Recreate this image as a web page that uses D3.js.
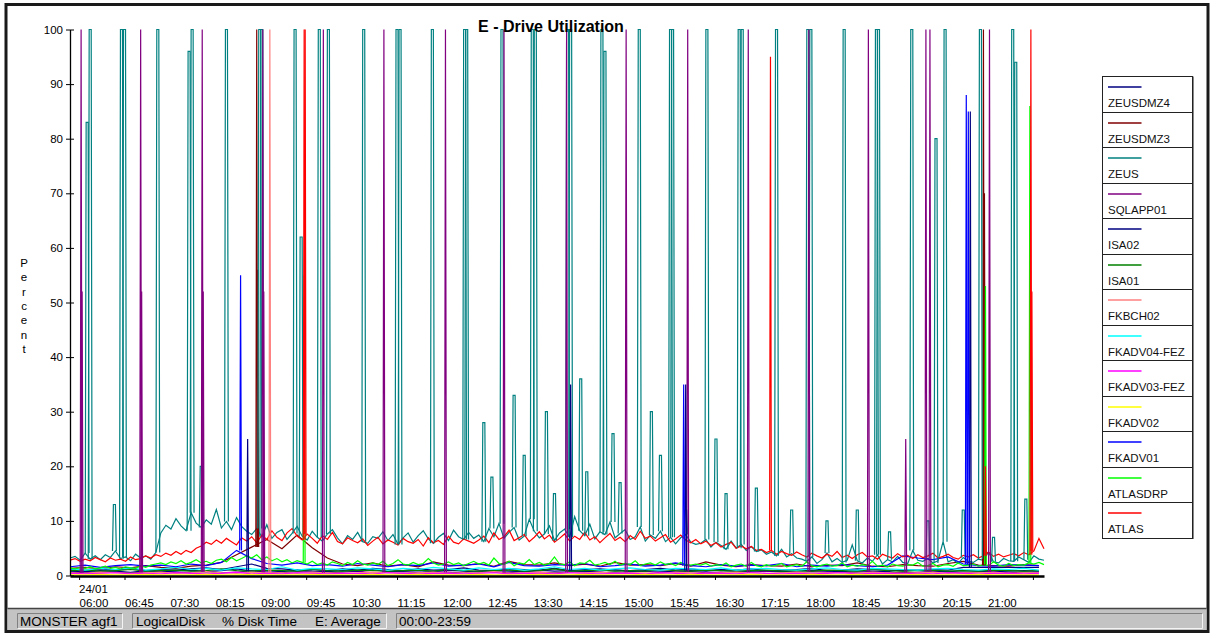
<!DOCTYPE html>
<html>
<head>
<meta charset="utf-8">
<script src="https://cdn.jsdelivr.net/npm/d3@7"></script>
<style>
  body { margin: 0; background: #fff; }
  svg { display: block; font-family: "Liberation Sans", Arial, sans-serif; }
</style>
</head>
<body>
<svg id="chart" width="1213" height="634"></svg>
<script>
// ---- chart values (minutes of the day on x, percent on y) ----
var startMinute = 351; // 05:51, left edge of the plot
var endMinute = 1316; // 21:56, right edge
var fineStep = 5, coarseStep = 15;

var tickLabels = ["06:00", "06:45", "07:30", "08:15", "09:00", "09:45", "10:30", "11:15", "12:00", "12:45", "13:30",
  "14:15", "15:00", "15:45", "16:30", "17:15", "18:00", "18:45", "19:30", "20:15", "21:00"];
var unlabelledTicks = ["21:45"];
var dateLabel = "24/01";
var yTicks = [0, 10, 20, 30, 40, 50, 60, 70, 80, 90, 100];

// sampled every 5 minutes
var zeusValues = [3.2, 3.5, 2.8, 4.1, 3.0, 3.6, 2.9, 3.8, 3.3, 4.5, 3.1, 3.4, 2.7, 3.9, 3.2, 3.6, 3.0, 4.2,
  7.8, 9.2, 8.5, 10.4, 9.1, 8.2, 11.5, 9.6, 8.8, 10.2, 9.4, 12.1, 8.7, 9.9, 8.4, 10.6, 9.0, 8.1,
  7.5, 8.6, 7.1, 9.3, 6.8, 7.9, 8.4, 6.6, 7.7, 9.0,
  7.2, 6.5, 8.1, 7.0, 6.3, 7.6, 8.4, 6.9, 5.8, 7.3, 6.6, 7.9, 6.2, 5.9, 7.1, 6.8, 8.0, 6.4, 7.5, 5.7,
  6.9, 7.8, 6.1, 7.3, 8.2, 6.7, 5.9, 7.0, 7.7, 6.4, 8.3, 7.1, 6.6, 7.9, 6.8,
  7.4, 6.2, 8.6, 7.1, 9.5, 6.8, 7.9, 8.8, 6.5, 7.2, 10.3, 8.1, 6.9, 7.6, 9.1, 6.4, 7.8, 8.5, 7.0, 10.8,
  8.2, 7.3, 9.4, 6.7, 8.0, 7.5, 9.8, 6.9, 7.7, 8.4, 6.6, 7.1, 8.9, 6.3, 7.4, 6.8, 8.1, 6.2, 7.0, 5.8,
  6.9, 7.5, 6.1, 5.7,
  5.9, 6.6, 5.2, 6.1, 5.5, 4.8, 6.3, 5.0, 5.7, 4.6, 5.3, 4.4,
  4.7, 3.9, 4.3, 3.6, 4.8, 3.4, 4.0, 3.2,
  3.0, 2.6, 3.4, 2.2, 2.9, 4.1, 2.5, 3.1, 2.4, 2.8, 5.6, 2.7, 2.3, 3.2, 2.6, 3.8, 2.1, 2.9, 2.5, 3.5,
  2.4, 2.2, 4.6, 2.8, 2.6, 3.1, 2.3, 2.7, 6.2, 2.5, 2.9, 2.2, 3.3, 2.6, 2.4, 3.0, 2.8, 4.3, 2.5, 2.3,
  3.1, 2.7, 2.6, 3.4, 2.9, 2.4, 3.6, 3.0, 2.8];

var atlasValues = [2.8, 3.1, 2.6, 3.0, 2.7, 3.3, 2.9, 2.5, 3.2, 2.8, 3.0, 2.6, 3.4, 2.9, 3.1, 3.6, 3.2, 3.8,
  3.5, 4.1, 3.7, 4.4, 3.9, 4.6, 4.2, 5.0,
  5.4, 6.1, 5.7, 6.5, 5.9, 6.8, 6.2, 5.6, 6.9, 6.3, 7.1, 6.0,
  7.4, 6.6, 8.2, 7.0, 6.4, 7.8, 8.6, 7.2, 6.5, 7.6, 6.8, 5.9, 7.3, 6.6, 7.9, 6.2, 5.8, 6.9, 6.4,
  6.0, 6.7, 5.5, 6.3, 7.0, 5.8, 6.5, 6.1, 5.6, 6.8, 6.2, 5.9, 6.6, 5.4, 6.9, 6.0, 6.4, 5.7, 7.2, 6.1,
  5.8, 6.7, 6.3, 5.9,
  6.5, 7.2, 6.0, 7.8, 6.6, 7.1, 8.3, 6.4, 6.9, 7.5, 6.2, 7.0, 8.0, 6.7, 7.4, 6.1, 6.8, 7.6, 6.3, 7.2,
  6.6, 7.9, 6.5, 7.1, 6.0, 6.9, 7.7, 6.4, 7.0, 6.2, 7.3, 6.6, 8.1, 6.8, 7.2, 6.3, 6.9, 7.5, 6.1, 6.7,
  7.4, 6.5, 6.0, 6.6,
  5.8, 6.3, 5.5, 6.0, 5.2, 5.7, 6.1, 5.0, 5.4, 4.9, 5.3, 4.6,
  4.8, 4.2, 4.6, 3.9, 4.4, 4.0, 3.7, 4.3,
  3.8, 3.4, 4.1, 3.6, 3.2, 3.9, 3.5, 4.4, 3.3, 3.7, 3.1, 3.8, 4.2, 3.4, 3.6, 3.0, 3.9, 3.5, 3.2, 4.0,
  3.4, 3.7, 3.1, 3.8, 3.3, 3.6, 4.1, 3.2, 3.5, 3.9, 3.3, 3.0, 3.7, 3.4, 3.8, 3.2, 3.6, 4.3, 3.5, 3.9,
  3.4, 3.7, 4.0, 3.6, 4.2, 3.8, 4.5, 6.8, 4.9];

var atlasdrpValues = [1.4, 1.2, 1.5, 1.3, 1.6, 1.2, 1.4, 1.7, 1.3, 1.5, 1.2, 1.6, 1.4, 1.3, 1.8, 1.5, 1.9, 2.1,
  2.3, 2.0, 2.5, 2.2, 2.7, 2.1, 2.4, 2.9, 2.3, 2.6, 2.2, 2.8, 3.0, 2.5, 3.3, 2.7, 3.1, 3.6,
  3.2, 3.8, 2.9, 3.4, 2.7, 3.1, 2.5, 2.9, 2.3, 2.7,
  2.4, 2.1, 2.6, 2.0, 2.3, 1.9, 2.5, 2.2, 1.8, 2.4, 2.0, 2.7, 2.1, 1.9, 2.3, 2.0, 2.6, 1.8, 2.2, 2.9,
  2.1, 1.9, 2.4, 2.0, 2.2, 3.1, 2.3, 1.9, 2.1, 2.5, 2.0, 2.3, 1.8, 2.2, 2.6,
  2.1, 2.4, 1.9, 3.2, 2.2, 2.0, 2.6, 1.8, 2.3, 2.1, 2.9, 2.0, 2.4, 1.9, 2.2, 3.4, 2.1, 2.0, 2.5, 1.8,
  2.3, 2.2, 2.8, 1.9, 2.1, 2.4, 2.0, 2.6, 1.9, 2.2, 2.0, 2.7, 1.8, 2.1, 2.3, 1.9, 2.5, 2.0, 2.2, 1.8,
  2.4, 2.0, 1.9, 2.1,
  1.9, 2.2, 1.7, 2.0, 1.8, 2.3, 1.6, 1.9, 2.1, 1.7, 2.4, 1.8, 1.6, 2.0, 1.7, 1.9, 2.2, 1.6, 1.8, 2.0,
  1.7, 2.5, 1.8, 1.6, 1.9, 2.1, 1.7, 1.8, 2.3, 1.6, 1.9, 1.7, 2.0, 1.8, 2.6, 1.7, 1.9, 1.6, 2.1, 1.8,
  1.7, 2.0, 1.9, 2.4, 1.7, 1.8, 2.2, 1.6, 1.9, 2.0, 1.7, 2.3, 1.8, 1.9, 2.1, 1.7, 2.0, 1.8, 2.5, 1.9,
  1.7, 2.2, 1.8, 2.0, 1.9, 2.3, 2.1, 2.4, 2.0];

// sampled every 15 minutes
var zeusdmz3Values = [1.3, 1.5, 1.2, 1.6, 1.4, 1.8, 1.5, 1.3, 1.7, 1.9, 2.4, 3.8, 5.2, 6.6, 4.9, 7.4, 5.1, 3.2, 2.1, 1.8,
  2.3, 1.7, 2.0, 1.6, 2.5, 1.9, 1.8, 2.2, 1.7, 2.6, 2.0, 1.9, 2.3, 1.8, 2.1, 1.7, 2.4, 1.9, 2.0, 1.8,
  2.2, 1.7, 2.5, 1.9, 1.6, 2.0, 1.8, 1.7, 2.1, 1.6, 1.9, 1.8, 2.3, 1.7, 1.6, 2.0, 1.8, 1.7, 2.2, 2.6,
  1.9, 1.8, 1.7, 2.0, 1.8];
var fkadv01Values = [1.6, 1.9, 1.5, 1.8, 2.0, 1.7, 1.9, 1.6, 2.1, 1.8, 2.4, 4.6, 3.1, 2.2, 1.9, 2.3, 1.8, 2.0, 1.7, 2.2,
  1.9, 1.6, 2.0, 1.8, 2.3, 1.7, 1.9, 2.1, 1.6, 2.4, 1.8, 1.7, 2.0, 1.9, 2.2, 1.6, 1.8, 2.1, 1.7, 1.9,
  2.3, 1.8, 1.6, 2.0, 1.7, 1.9, 1.8, 2.2, 1.6, 1.9, 1.7, 2.0, 1.8, 1.6, 1.9, 3.6, 3.2, 2.9, 3.4, 2.1,
  1.8, 1.7, 2.0, 1.9, 1.8];
var zeusdmz4Values = [1.1, 0.9, 1.2, 1.0, 1.3, 0.9, 1.1, 1.0, 1.2, 1.4, 1.1, 1.6, 2.1, 1.3, 1.2, 1.0, 1.1, 0.9, 1.2, 1.0,
  1.3, 1.1, 0.9, 1.2, 1.0, 1.1, 1.4, 1.0, 0.9, 1.2, 1.1, 1.0, 1.3, 0.9, 1.1, 1.2, 1.0, 0.9, 1.1, 1.3,
  1.0, 1.2, 0.9, 1.1, 1.0, 1.2, 0.9, 1.0, 1.1, 1.3, 0.9, 1.0, 1.2, 1.1, 1.0, 0.9, 1.0, 1.1, 1.0, 1.5,
  1.5, 1.5, 1.5, 1.5, 1.5];
var isa02Values = [0.8, 0.7, 0.9, 0.8, 0.6, 0.9, 0.7, 0.8, 1.0, 0.7, 0.9, 1.2, 0.8, 0.9, 0.7, 1.0, 0.8, 0.7, 0.9, 0.8,
  1.1, 0.7, 0.8, 0.9, 0.7, 1.0, 0.8, 0.6, 0.9, 0.8, 0.7, 1.0, 0.8, 0.9, 0.7, 0.8, 1.1, 0.7, 0.9, 0.8,
  0.7, 0.9, 0.8, 1.0, 0.7, 0.8, 0.9, 0.7, 0.8, 1.0, 0.8, 0.7, 0.9, 0.8, 0.7, 1.1, 0.9, 0.8, 0.7, 0.9,
  0.8, 0.7, 0.8, 0.9, 0.8];
var sqlapp01Values = [0.6, 0.5, 0.7, 0.6, 0.5, 0.6, 0.8, 0.5, 0.6, 0.7, 0.5, 0.6, 0.9, 0.6, 0.5, 0.7, 0.6, 0.5, 0.6, 0.8,
  0.5, 0.6, 0.7, 0.5, 0.6, 0.6, 0.5, 0.8, 0.6, 0.5, 0.7, 0.6, 0.5, 0.6, 0.7, 0.5, 0.6, 0.6, 0.8, 0.5,
  0.6, 0.7, 0.5, 0.6, 0.5, 0.6, 0.8, 0.6, 0.5, 0.7, 0.6, 0.5, 0.6, 0.7, 0.5, 0.6, 0.5, 0.8, 0.6, 0.5,
  0.6, 0.7, 0.5, 0.6, 0.6];
var isa01Values = [0.9, 1.0, 0.8, 0.9, 1.1, 0.8, 0.9, 1.0, 0.8, 0.9, 1.2, 0.9, 0.8, 1.0, 0.9, 0.8, 1.1, 0.9, 0.8, 1.0,
  0.9, 0.8, 0.9, 1.0, 0.8, 1.1, 0.9, 0.8, 0.9, 1.0, 0.8, 0.9, 1.2, 0.8, 0.9, 1.0, 0.8, 0.9, 0.8, 1.1,
  0.9, 0.8, 1.0, 0.9, 0.8, 0.9, 1.0, 0.8, 0.9, 0.8, 1.0, 0.9, 0.8, 1.1, 0.9, 0.8, 0.9, 1.0, 0.8, 0.9,
  0.8, 1.0, 0.9, 0.8, 0.9];
var fkbch02Values = [0.5, 0.4, 0.6, 0.5, 0.4, 0.5, 0.6, 0.4, 0.5, 0.7, 0.5, 0.4, 0.6, 0.5, 0.5, 0.4, 0.6, 0.5, 0.4, 0.5,
  0.6, 0.5, 0.4, 0.5, 0.6, 0.4, 0.5, 0.5, 0.7, 0.4, 0.5, 0.6, 0.4, 0.5, 0.5, 0.6, 0.4, 0.5, 0.5, 0.4,
  0.6, 0.5, 0.4, 0.5, 0.6, 0.5, 0.4, 0.5, 0.6, 0.4, 0.5, 0.5, 0.4, 0.6, 0.5, 0.4, 0.5, 0.6, 0.4, 0.5,
  0.5, 0.6, 0.4, 0.5, 0.5];
var fkadv04Values = [1.2, 1.0, 1.3, 1.1, 1.4, 1.0, 1.2, 1.5, 1.1, 1.3, 1.0, 1.4, 1.2, 1.1, 1.6, 1.0, 1.3, 1.2, 1.1, 1.4,
  1.2, 1.0, 1.3, 1.1, 1.5, 1.2, 1.0, 1.4, 1.1, 1.3, 1.0, 1.2, 1.6, 1.1, 1.3, 1.0, 1.2, 1.4, 1.1, 1.0,
  1.3, 1.2, 1.1, 1.4, 1.0, 1.2, 1.3, 1.1, 1.0, 1.2, 1.4, 1.1, 1.0, 1.3, 1.2, 1.1, 1.0, 1.2, 1.3, 1.1,
  1.0, 1.2, 1.1, 1.3, 1.0];
var fkadv03Values = [0.4, 0.3, 0.4, 0.5, 0.3, 0.4, 0.3, 0.5, 0.4, 0.3, 0.4, 0.6, 0.3, 0.4, 0.3, 0.5, 0.4, 0.3, 0.4, 0.4,
  0.3, 0.5, 0.4, 0.3, 0.4, 0.4, 0.3, 0.4, 0.5, 0.3, 0.4, 0.4, 0.3, 0.5, 0.4, 0.3, 0.4, 0.4, 0.3, 0.5,
  0.4, 0.3, 0.4, 0.4, 0.3, 0.5, 0.4, 0.3, 0.4, 0.3, 0.4, 0.5, 0.3, 0.4, 0.4, 0.3, 0.4, 0.3, 0.5, 0.4,
  0.3, 0.4, 0.4, 0.3, 0.4];
var fkadv02Values = [0.1, 0.1, 0.2, 0.1, 0.1, 0.2, 0.1, 0.1, 0.1, 0.2, 0.1, 0.1, 0.2, 0.1, 0.1, 0.1, 0.2, 0.1, 0.1, 0.1,
  0.2, 0.1, 0.1, 0.2, 0.1, 0.1, 0.1, 0.2, 0.1, 0.1, 0.1, 0.2, 0.1, 0.1, 0.2, 0.1, 0.1, 0.1, 0.2, 0.1,
  0.1, 0.2, 0.1, 0.1, 0.1, 0.2, 0.1, 0.1, 0.1, 0.2, 0.1, 0.1, 0.2, 0.1, 0.1, 0.1, 0.2, 0.1, 0.1, 0.1,
  0.2, 0.1, 0.1, 0.1, 0.1];

// short bursts: [minute of day, peak percent]
var zeusSpikes = [[367, 83], [370, 100], [394, 13], [401, 100], [404, 100], [437, 100], [468, 96], [471, 100],
  [480, 20], [505, 100], [538, 100], [540, 100], [573, 100], [579, 62], [597, 100], [606, 100], [641, 100],
  [674, 100], [677, 100], [709, 100], [741, 100], [743, 100], [760, 28], [768, 18], [778, 100], [790, 33],
  [800, 22], [808, 100], [811, 100], [822, 30], [830, 15], [843, 100], [846, 100], [856, 36], [862, 19],
  [877, 100], [880, 96], [888, 26], [895, 17], [914, 100], [926, 30], [935, 22], [945, 100], [947, 100],
  [960, 12], [981, 100], [990, 25], [1000, 15], [1013, 100], [1016, 100], [1030, 16], [1050, 100],
  [1065, 12], [1081, 100], [1084, 100], [1100, 10], [1117, 100], [1130, 12], [1149, 100], [1151, 100],
  [1162, 8], [1184, 100], [1200, 10], [1208, 80], [1217, 100], [1235, 12], [1252, 100], [1265, 7],
  [1284, 100], [1287, 94], [1297, 14]];
var sqlapp01Spikes = [[362, 100], [363, 52], [421, 100], [422, 52], [482, 100], [483, 52], [542, 100], [543, 52],
  [602, 100], [662, 100], [723, 100], [781, 100], [843, 100], [902, 100], [963, 100], [1023, 100], [1083, 100],
  [1142, 100], [1179, 25], [1199, 100], [1203, 100], [1262, 100]];
var atlasSpikes = [[583, 100], [584, 100], [1045, 95], [1258, 20], [1303, 100], [1304, 52]];
var fkbch02Spikes = [[549, 100]];
var zeusdmz3Spikes = [[536, 100], [537, 56], [1256, 100], [1257, 70]];
var atlasdrpSpikes = [[583, 55], [1258, 53], [1302, 86]];
var fkadv01Spikes = [[520, 55], [959, 35], [1239, 88], [1241, 85]];
var zeusdmz4Spikes = [[1243, 85]];
var isa02Spikes = [[527, 25], [847, 35], [961, 35]];

var series = [
  { name: "ZEUSDMZ4", color: "#000080", step: coarseStep, values: zeusdmz4Values, spikes: zeusdmz4Spikes },
  { name: "ZEUSDMZ3", color: "#800000", step: coarseStep, values: zeusdmz3Values, spikes: zeusdmz3Spikes },
  { name: "ZEUS", color: "#008080", step: fineStep, values: zeusValues, spikes: zeusSpikes, hold: 2 },
  { name: "SQLAPP01", color: "#800080", step: coarseStep, values: sqlapp01Values, spikes: sqlapp01Spikes },
  { name: "ISA02", color: "#000080", step: coarseStep, values: isa02Values, spikes: isa02Spikes },
  { name: "ISA01", color: "#008000", step: coarseStep, values: isa01Values, spikes: [] },
  { name: "FKBCH02", color: "#ff8080", step: coarseStep, values: fkbch02Values, spikes: fkbch02Spikes },
  { name: "FKADV04-FEZ", color: "#00ffff", step: coarseStep, values: fkadv04Values, spikes: [] },
  { name: "FKADV03-FEZ", color: "#ff00ff", step: coarseStep, values: fkadv03Values, spikes: [] },
  { name: "FKADV02", color: "#ffff00", step: coarseStep, values: fkadv02Values, spikes: [] },
  { name: "FKADV01", color: "#0000ff", step: coarseStep, values: fkadv01Values, spikes: fkadv01Spikes },
  { name: "ATLASDRP", color: "#00ff00", step: fineStep, values: atlasdrpValues, spikes: atlasdrpSpikes },
  { name: "ATLAS", color: "#ff0000", step: fineStep, values: atlasValues, spikes: atlasSpikes }
];

// "HH:MM" -> minute of day
function toMinute(s) {
  var p = s.split(":");
  return +p[0] * 60 + +p[1];
}

var svg = d3.select("#chart");
var font = "\"Liberation Sans\", Arial, sans-serif";

// outer window frame
svg.append("rect").attr("x", 6).attr("y", 4.5).attr("width", 1202).attr("height", 627)
  .attr("fill", "#fff").attr("stroke", "#1a1a1a").attr("stroke-width", 3);

var x = d3.scaleLinear().domain([startMinute, endMinute]).range([70, 1044]),
  y = d3.scaleLinear().domain([0, 100]).range([575.5, 29.5]);

svg.append("clipPath").attr("id", "plotClip")
  .append("rect").attr("x", 70).attr("y", 28).attr("width", 975).attr("height", 549);

var plot = svg.append("g").attr("clip-path", "url(#plotClip)");
var line = d3.line().x((d) => x(d[0])).y((d) => y(d[1]));

// base traces
series.forEach((s) => {
  var pts = s.values.map((v, i) => [startMinute + i * s.step, v]);
  plot.append("path").attr("d", line(pts))
    .attr("fill", "none").attr("stroke", s.color).attr("stroke-width", 1.2);
});

// bursts go on top, starting from the trace level at that time
series.forEach((s) => {
  var hold = s.hold || 0;
  s.spikes.forEach((sp) => {
    var k = Math.max(0, Math.min(s.values.length - 1, Math.round((sp[0] - startMinute) / s.step)));
    var base = s.values[k];
    var pts = [[sp[0] - 0.9, base], [sp[0], sp[1]], [sp[0] + hold, sp[1]], [sp[0] + hold + 0.9, base]];
    plot.append("path").attr("d", line(pts))
      .attr("fill", "none").attr("stroke", s.color).attr("stroke-width", 1.2);
  });
});

// y axis, ticks cross the line
var axisY = svg.append("g").attr("transform", "translate(70,0)")
  .call(d3.axisLeft(y).tickValues(yTicks).tickSize(4).tickPadding(3).tickSizeOuter(0));
axisY.select(".domain").attr("stroke", "#000").attr("stroke-width", 1.3);
axisY.selectAll(".tick line").attr("x1", 4).attr("x2", -4).attr("stroke", "#000");
axisY.selectAll(".tick text").attr("font-family", font).attr("font-size", "11.5px").attr("fill", "#000");

// x axis
var tickMinutes = tickLabels.concat(unlabelledTicks).map(toMinute);
var axisX = svg.append("g").attr("transform", "translate(0,576)")
  .call(d3.axisBottom(x).tickValues(tickMinutes).tickSize(4).tickSizeOuter(0)
    .tickFormat((d, i) => tickLabels[i] || ""));
axisX.select(".domain").attr("stroke", "#000").attr("stroke-width", 2.5);
axisX.selectAll(".tick line").attr("stroke", "#000");
axisX.selectAll(".tick text").attr("font-family", font).attr("font-size", "11.5px").attr("fill", "#000")
  .attr("text-anchor", "start").attr("y", 31).attr("dy", 0);
axisX.append("text").attr("x", x(tickMinutes[0])).attr("y", 17).attr("text-anchor", "start")
  .attr("font-family", font).attr("font-size", "11.5px").attr("fill", "#000").text(dateLabel);

// y title, one letter per line
"Percent".split("").forEach((ch, i) => {
  svg.append("text").attr("x", 24).attr("y", 267 + i * 14.3).attr("text-anchor", "middle")
    .attr("font-family", font).attr("font-size", "11.5px").attr("fill", "#000").text(ch);
});

// title
svg.append("text").attr("x", 551).attr("y", 32).attr("text-anchor", "middle")
  .attr("font-family", font).attr("font-size", "16px").attr("font-weight", "bold").attr("fill", "#000")
  .text("E - Drive Utilization");

// legend
var legTop = 76, legRow = 35.5, legLeft = 1102.5, legWidth = 90;
var legend = svg.append("g");
legend.append("rect").attr("x", legLeft + 1).attr("y", legTop + 1)
  .attr("width", legWidth).attr("height", legRow * series.length)
  .attr("fill", "none").attr("stroke", "#888").attr("stroke-width", 1);
series.forEach((s, i) => {
  var top = Math.round(legTop + i * legRow) + 0.5;
  var next = Math.round(legTop + (i + 1) * legRow) + 0.5;
  legend.append("rect").attr("x", legLeft).attr("y", top).attr("width", legWidth).attr("height", next - top)
    .attr("fill", "#fff").attr("stroke", "#222").attr("stroke-width", 1);
  legend.append("line").attr("x1", legLeft + 5.5).attr("x2", legLeft + 39)
    .attr("y1", top + 10.5).attr("y2", top + 10.5).attr("stroke", s.color).attr("stroke-width", 1.6);
  legend.append("text").attr("x", legLeft + 5.5).attr("y", top + 30)
    .attr("font-family", font).attr("font-size", "11.5px").attr("fill", "#111").text(s.name);
});

// status bar
var statusBar = svg.append("g");
statusBar.append("rect").attr("x", 7.5).attr("y", 609).attr("width", 1199).attr("height", 21).attr("fill", "#c3c3c3");
statusBar.append("line").attr("x1", 7.5).attr("x2", 1206.5).attr("y1", 608.5).attr("y2", 608.5)
  .attr("stroke", "#444").attr("stroke-width", 1.5);
var panels = [[17, 123], [132, 387], [396, 1203]];
panels.forEach((p) => {
  statusBar.append("path").attr("d", "M" + (p[0] + 0.5) + ",628.5V613.5H" + (p[1] - 0.5))
    .attr("fill", "none").attr("stroke", "#808080");
  statusBar.append("path").attr("d", "M" + (p[1] - 0.5) + ",613.5V628.5H" + (p[0] + 0.5))
    .attr("fill", "none").attr("stroke", "#f4f4f4");
});
var statusTexts = [["MONSTER agf1", 20], ["LogicalDisk", 136], ["% Disk Time", 222], ["E: Average", 315], ["00:00-23:59", 399]];
statusTexts.forEach((t) => {
  statusBar.append("text").attr("x", t[1]).attr("y", 626).attr("font-family", font)
    .attr("font-size", "13.5px").attr("fill", "#000").text(t[0]);
});
</script>
</body>
</html>
